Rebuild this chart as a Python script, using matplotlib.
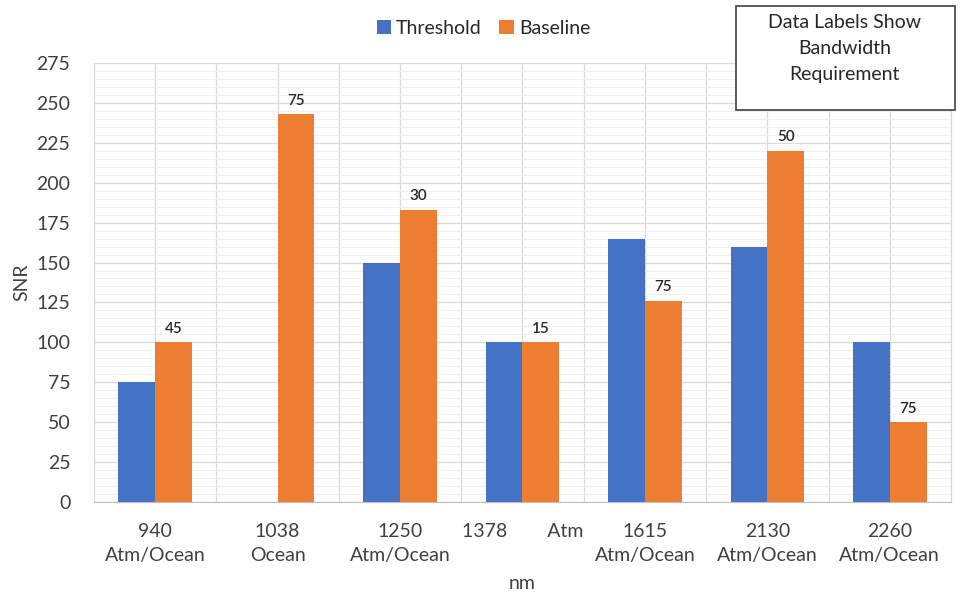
import matplotlib.pyplot as plt
import numpy as np
from matplotlib.ticker import MultipleLocator

plt.rcParams['font.family'] = ['Lato', 'DejaVu Sans']

# bands and their use
bands = ['940\nAtm/Ocean', '1038\nOcean', '1250\nAtm/Ocean', '1378        Atm',
         '1615\nAtm/Ocean', '2130\nAtm/Ocean', '2260\nAtm/Ocean']
threshold = [75, 0, 150, 100, 165, 160, 100]
baseline = [100, 243, 183, 100, 126, 220, 50]
bandwidth = [45, 75, 30, 15, 75, 50, 75]

blue = '#4472C4'
orange = '#ED7D31'
fs = 14

fig = plt.figure(figsize=(9.61, 5.93), dpi=100)
ax = fig.add_axes([0.0978, 0.1535, 0.8918, 0.7403])

x = np.arange(len(bands))
w = 0.3
ax.bar(x - w / 2, threshold, w, color=blue, label='Threshold', zorder=3)
bars = ax.bar(x + w / 2, baseline, w, color=orange, label='Baseline', zorder=3)

for b, lab in zip(bars, bandwidth):
    ax.text(b.get_x() + b.get_width() / 2, b.get_height() + 4, str(lab),
            ha='center', va='bottom', fontsize=11, fontweight='semibold',
            color='#262626', zorder=4)

ax.set_xlim(-0.5, len(bands) - 0.5)
ax.set_ylim(0, 275)
ax.yaxis.set_major_locator(MultipleLocator(25))
ax.yaxis.set_minor_locator(MultipleLocator(5))
ax.set_xticks(x)
ax.set_xticklabels(bands, fontsize=fs, color='#404040', linespacing=1.5)
ax.set_xticks(np.arange(-0.5, len(bands)), minor=True)
ax.tick_params(axis='both', which='both', length=0)
ax.tick_params(axis='x', pad=15)
ax.tick_params(axis='y', labelsize=fs, labelcolor='#404040', pad=17)

ax.grid(axis='y', which='major', color='#d9d9d9', lw=0.9, zorder=0)
ax.grid(axis='y', which='minor', color='#f0f0f0', lw=0.8, zorder=0)
ax.grid(axis='x', which='both', color='#d9d9d9', lw=0.9, zorder=0)

for s in ['left', 'right', 'top']:
    ax.spines[s].set_color('#d9d9d9')
ax.spines['bottom'].set_color('#bfbfbf')

ax.set_ylabel('SNR', fontsize=fs, color='#404040', labelpad=4)
ax.set_xlabel('nm', fontsize=fs, color='#404040', labelpad=8)

fig.legend(loc='center', bbox_to_anchor=(0.503, 0.952), ncol=2, frameon=False,
           fontsize=fs, handlelength=0.75, handleheight=0.75, handletextpad=0.25,
           columnspacing=0.9, labelcolor='#262626')

# note box in the top right corner
box = plt.Rectangle((0.766, 0.815), 0.228, 0.175, transform=fig.transFigure,
                    fc='white', ec='#404040', lw=1.2, zorder=5)
fig.patches.append(box)
fig.text(0.879, 0.918, 'Data Labels Show\nBandwidth\nRequirement', ha='center',
         va='center', fontsize=fs, color='#262626', linespacing=1.65, zorder=6)

fig.savefig('out.png', dpi=100, facecolor='white')
